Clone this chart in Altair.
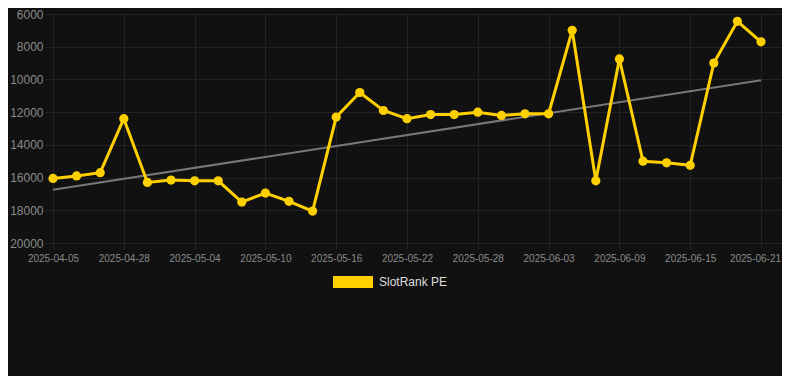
import altair as alt
import pandas as pd

dates = [
    "2025-04-05", "2025-04-13", "2025-04-21", "2025-04-28", "2025-04-30",
    "2025-05-02", "2025-05-04", "2025-05-06", "2025-05-08", "2025-05-10",
    "2025-05-12", "2025-05-14", "2025-05-16", "2025-05-18", "2025-05-20",
    "2025-05-22", "2025-05-24", "2025-05-26", "2025-05-28", "2025-05-30",
    "2025-06-01", "2025-06-03", "2025-06-05", "2025-06-07", "2025-06-09",
    "2025-06-11", "2025-06-13", "2025-06-15", "2025-06-17", "2025-06-19",
    "2025-06-21",
]
rank = [
    16050, 15900, 15700, 12400, 16300, 16150, 16200, 16200, 17500, 16950,
    17450, 18050, 12300, 10800, 11900, 12400, 12150, 12150, 12000, 12200,
    12100, 12100, 7000, 16200, 8750, 15000, 15100, 15250, 9000, 6450,
    7700,
]
series_name = "SlotRank PE"
y_ticks = [6000, 8000, 10000, 12000, 14000, 16000, 18000, 20000]
x_tick_idx = list(range(0, len(dates), 3))
last_idx = len(dates) - 1

df = pd.DataFrame({
    "i": list(range(len(dates))),
    "date": dates,
    "rank": rank,
    "series": [series_name] * len(dates),
})

label_expr = "[" + ",".join("'" + d + "'" for d in dates) + "][datum.value]"

YELLOW = "#FFD000"
FONT = "Liberation Sans"
GRID = "#232323"

x_enc = alt.X(
    "i:Q",
    scale=alt.Scale(domain=[-0.339, 30.89], nice=False, zero=False),
    axis=alt.Axis(
        values=x_tick_idx, labelExpr=label_expr, title=None,
        grid=True, gridColor=GRID, domain=False,
        ticks=True, tickColor=GRID, tickSize=6,
        labelColor="#8a8a8a", labelFontSize=10, labelFont=FONT,
        labelPadding=4, labelFlush=False, labelOverlap=False,
        labelBound=False,
        labelOffset={"expr": f"datum.value >= {last_idx} ? -6 : 0"},
    ),
)
y_enc = alt.Y(
    "rank:Q",
    scale=alt.Scale(domain=[6000, 20000], reverse=True, nice=False, zero=False),
    axis=alt.Axis(
        values=y_ticks, format="d", title=None, grid=True, gridColor=GRID,
        domain=False, ticks=False, labelColor="#8a8a8a", labelFontSize=12,
        labelFont=FONT, labelPadding=2,
    ),
)

color_scale = alt.Scale(domain=[series_name], range=[YELLOW])
color_enc = alt.Color(
    "series:N",
    scale=color_scale,
    legend=alt.Legend(
        title=None, orient="none", legendX=288, legendY=248,
        symbolType="M-1,-0.3L1,-0.3L1,0.3L-1,0.3Z", symbolSize=1600,
        symbolStrokeWidth=0, symbolFillColor=YELLOW,
        labelColor="#dddddd", labelFontSize=12, labelFont=FONT,
        labelOffset=6,
    ),
)

base = alt.Chart(df)

trend = base.transform_regression("i", "rank").mark_line(
    color="#777777", strokeWidth=2
).encode(x=x_enc, y=y_enc)

line = base.mark_line(strokeWidth=3, strokeJoin="miter").encode(
    x=x_enc, y=y_enc, color=color_enc
)
points = base.mark_circle(size=85, opacity=1).encode(
    x=x_enc, y=y_enc,
    color=alt.Color("series:N", scale=color_scale, legend=None),
)

chart = alt.layer(trend, line, points).properties(
    width=737, height=229,
    background="#111111",
    padding={"left": 37, "top": 6, "right": 0, "bottom": 133},
    autosize=alt.AutoSizeParams(type="none"),
).configure_view(stroke=None)

chart.save("out.html", embed_options={"renderer": "svg", "actions": False})
